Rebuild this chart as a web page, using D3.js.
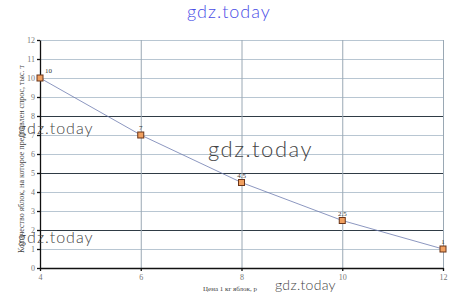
<!DOCTYPE html>
<html>
<head>
<meta charset="utf-8">
<script src="https://cdn.jsdelivr.net/npm/d3@7"></script>
<style>
    body { margin: 0; background: #fff; }
    .tick text { fill: #777; font-family: 'Liberation Serif', serif; font-size: 8px; }
    .wm { font-family: 'Lato', sans-serif; font-weight: 300; }
</style>
</head>
<body>
<div class="chart-container"></div>
<script>
// Data
const prices = [4, 6, 8, 10, 12];
const demand = [10, 7, 4.5, 2.5, 1];
const pointLabels = ['10', '7', '4.5', '2.5', '1'];
const xTicks = [4, 6, 8, 10, 12];
const yTicks = [0, 1, 2, 3, 4, 5, 6, 7, 8, 9, 10, 11, 12];
const darkLines = [2, 5, 8];

const svgWidth = 457;
const svgHeight = 305;
const margin = { top: 40, right: 14, bottom: 37, left: 40 };
const width = svgWidth - margin.left - margin.right;
const height = svgHeight - margin.top - margin.bottom;

const svg = d3.select('.chart-container')
    .append('svg')
    .attr('width', svgWidth)
    .attr('height', svgHeight);

const g = svg.append('g')
    .attr('transform', 'translate(' + margin.left + ',' + margin.top + ')');

// Scales
const xScale = d3.scaleLinear().domain([4, 12]).range([0, width]);
const yScale = d3.scaleLinear().domain([0, 12]).range([height, 0]);

// Horizontal grid
g.selectAll('.hgrid')
    .data(yTicks.filter(d => d > 0))
    .enter()
    .append('line')
    .attr('x1', 0)
    .attr('x2', width)
    .attr('y1', d => yScale(d) + 0.5)
    .attr('y2', d => yScale(d) + 0.5)
    .style('stroke', d => darkLines.includes(d) ? '#2f3b45' : '#b8c6d2')
    .style('stroke-width', d => darkLines.includes(d) ? 1.2 : 1);

// Vertical grid
g.selectAll('.vgrid')
    .data(xTicks.filter(d => d > 4))
    .enter()
    .append('line')
    .attr('x1', d => xScale(d) + 0.5)
    .attr('x2', d => xScale(d) + 0.5)
    .attr('y1', 0)
    .attr('y2', height)
    .style('stroke', '#9aa8b4');

// Axes
const xAxis = d3.axisBottom(xScale).tickValues(xTicks).tickSizeInner(3).tickSizeOuter(0);
const xAxisDraw = g.append('g')
    .attr('class', 'x axis')
    .attr('transform', 'translate(0,' + height + ')');
xAxis(xAxisDraw);

const yAxis = d3.axisLeft(yScale).tickValues(yTicks).tickSizeInner(3).tickSizeOuter(0).tickPadding(2);
const yAxisDraw = g.append('g').attr('class', 'y axis');
yAxis(yAxisDraw);

g.selectAll('.axis path, .axis line').style('stroke', '#111').style('stroke-width', 1.3);

// Line
const line = d3.line()
    .x((d, i) => xScale(prices[i]))
    .y(d => yScale(d));

g.append('path')
    .datum(demand)
    .attr('d', line)
    .style('fill', 'none')
    .style('stroke', '#6f7cb0')
    .style('stroke-width', 0.8);

// Markers
g.selectAll('.marker')
    .data(demand)
    .enter()
    .append('rect')
    .attr('x', (d, i) => xScale(prices[i]) - 3)
    .attr('y', d => yScale(d) - 3)
    .attr('width', 6)
    .attr('height', 6)
    .style('fill', '#f0a060')
    .style('stroke', '#6a3418')
    .style('stroke-width', 1);

// Point labels
g.selectAll('.plabel')
    .data(demand)
    .enter()
    .append('text')
    .attr('x', (d, i) => xScale(prices[i]) + (i === 0 ? 5 : 0))
    .attr('y', d => yScale(d) - 5)
    .attr('text-anchor', (d, i) => i === 0 ? 'start' : 'middle')
    .style('font-family', 'Liberation Serif, serif')
    .style('font-size', '7px')
    .style('fill', '#333')
    .text((d, i) => pointLabels[i]);

// Axis titles
svg.append('text')
    .attr('transform', 'translate(24,' + (margin.top + height / 2 + 5) + ') rotate(-90)')
    .attr('text-anchor', 'middle')
    .style('font-family', 'Liberation Serif, serif')
    .style('font-size', '8px')
    .style('fill', '#444')
    .text('Количество яблок, на которое предъявлен спрос, тыс. т');

svg.append('text')
    .attr('x', 230)
    .attr('y', 291)
    .attr('text-anchor', 'middle')
    .style('font-family', 'Liberation Serif, serif')
    .style('font-size', '7px')
    .style('fill', '#444')
    .text('Цена 1 кг яблок, р');

// Watermarks
const marks = [
    { x: 187, y: 18, size: 18, color: '#4a4de6', spacing: 1 },
    { x: 18, y: 134, size: 16, color: '#444', spacing: 1 },
    { x: 208, y: 157, size: 22, color: '#444', spacing: 1.5 },
    { x: 18, y: 243, size: 16, color: '#444', spacing: 1 },
    { x: 275, y: 290, size: 14, color: '#444', spacing: 0.3 }
];
svg.selectAll('.wm')
    .data(marks)
    .enter()
    .append('text')
    .attr('class', 'wm')
    .attr('x', d => d.x)
    .attr('y', d => d.y)
    .style('font-size', d => d.size + 'px')
    .style('letter-spacing', d => d.spacing + 'px')
    .style('fill', d => d.color)
    .text('gdz.today');
</script>
</body>
</html>
